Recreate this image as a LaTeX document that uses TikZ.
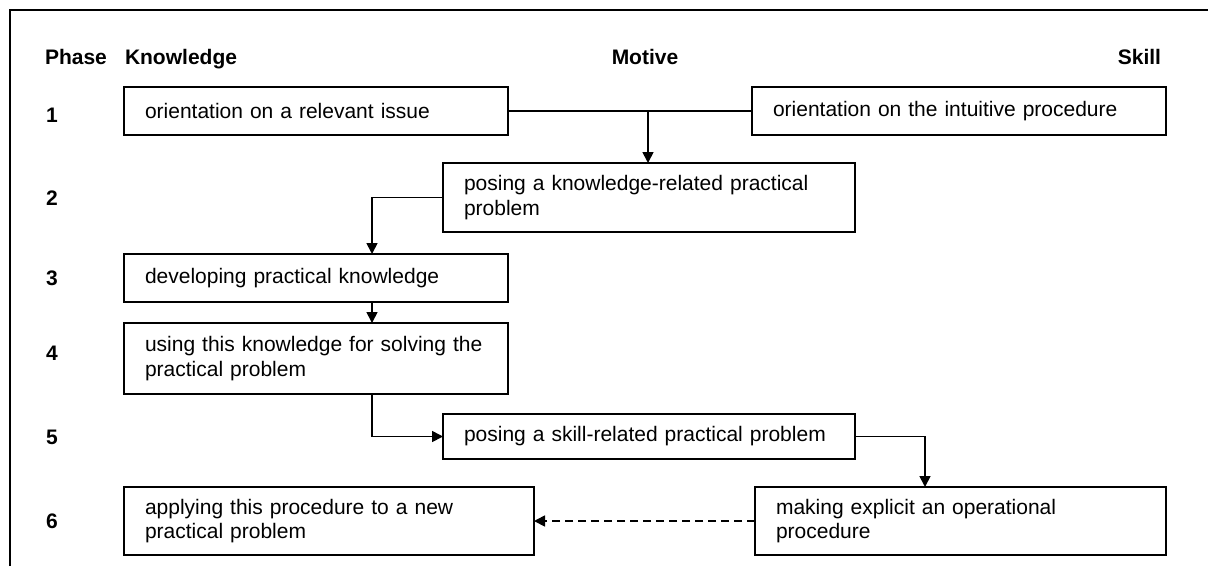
\documentclass[tikz,border=0pt]{standalone}
\usepackage{fontspec}
\setmainfont{Liberation Sans}
\usetikzlibrary{arrows.meta}
\begin{document}
\begin{tikzpicture}[x=1pt,y=-1pt,
  hdr/.style={font=\fontsize{21}{24.5}\selectfont\bfseries, inner sep=0pt, outer sep=0pt},
  box/.style={draw, line width=1.7pt, anchor=north west, align=left, inner xsep=21pt, inner ysep=0pt, outer sep=0pt, font=\fontsize{21}{24.5}\selectfont},
  conn/.style={line width=1.7pt},
  arr/.style={conn, -{Triangle[length=11pt,width=11pt]}},
  frame/.style={line width=2pt}
]
\useasboundingbox (0,0) rectangle (1208,566);
% frame (left and top edges)
\coordinate (fb) at (10,566);
\coordinate (fc) at (10,10);
\coordinate (fr) at (1208,10);
\draw[frame] (fb) -- (fc) -- (fr);

% headers
\node[hdr, anchor=base west] (ph) at (45,64) {Phase};
\node[hdr, anchor=base west] (hk) at (125,64) {Knowledge};
\node[hdr, anchor=base] (hm) at (645,64) {Motive};
\node[hdr, anchor=base east] (hs) at (1161,64) {Skill};

% phase numbers
\node[hdr, anchor=base west] (n1) at (46,122) {1};
\node[hdr, anchor=base west] (n2) at (46,205) {2};
\node[hdr, anchor=base west] (n3) at (46,285) {3};
\node[hdr, anchor=base west] (n4) at (46,360) {4};
\node[hdr, anchor=base west] (n5) at (46,444) {5};
\node[hdr, anchor=base west] (n6) at (46,528) {6};

% boxes
\node[box, text width=342pt, minimum height=48pt] (b1) at (124,87) {\mbox{orientation on a relevant issue}};
\node[box, text width=372pt, minimum height=48pt] (b1s) at (752,87) {\mbox{orientation on the intuitive procedure}};
\node[box, text width=370pt, minimum height=69pt] (b2) at (443,163) {\mbox{posing a knowledge-related practical}\\problem};
\node[box, text width=342pt, minimum height=48pt] (b3) at (124,254) {\mbox{developing practical knowledge}};
\node[box, text width=342pt, minimum height=71pt] (b4) at (124,323) {\mbox{using this knowledge for solving the}\\\mbox{practical problem}};
\node[box, text width=370pt, minimum height=45pt] (b5) at (443,414) {\mbox{posing a skill-related practical problem}};
\node[box, text width=368pt, minimum height=68pt] (b6l) at (124,487) {\mbox{applying this procedure to a new}\\\mbox{practical problem}};
\node[box, text width=369pt, minimum height=68pt] (b6r) at (755,487) {\mbox{making explicit an operational}\\procedure};

% connectors
\coordinate (j1) at (648,111);
\coordinate (kx) at (372,0);
\coordinate (sx) at (925,0);
\draw[conn] (b1.east) -- (b1s.west);
\draw[arr] (j1) -- (j1 |- b2.north);
\draw[arr] (b2.west) -| (kx |- b3.north);
\draw[arr] (kx |- b3.south) -- (kx |- b4.north);
\draw[arr] (kx |- b4.south) |- (b5.west);
\draw[arr] (b5.east) -| (sx |- b6r.north);
\draw[arr, dash pattern=on 8pt off 5pt] (b6r.west) -- (b6l.east);
\end{tikzpicture}
\end{document}
